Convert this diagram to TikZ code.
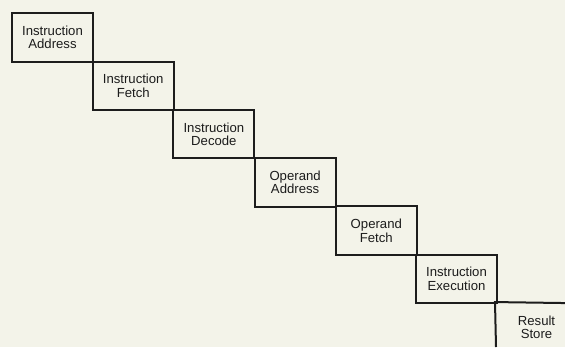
\documentclass[tikz,border=0pt]{standalone}
\usepackage{fontspec}
\setmainfont{Liberation Sans}
\definecolor{paper}{RGB}{243,243,233}
\definecolor{ink}{RGB}{28,28,28}
\begin{document}
\begin{tikzpicture}[x=1bp,y=1bp,
  stage/.style={draw=ink,line width=2bp,minimum width=81bp,minimum height=48.5bp,inner sep=0pt,
    align=center,text=ink,font=\fontsize{13.2}{13.5}\selectfont},
  openstage/.style={stage,draw=none}]
\fill[paper] (0,0) rectangle (565,-347);
\useasboundingbox (0,0) rectangle (565,-347);
\node[stage] (s1) at (52.5,-37.5) {Instruction\\Address};
\node[stage] (s2) at (133.2,-85.8) {Instruction\\Fetch};
\node[stage] (s3) at (213.9,-134.1) {Instruction\\Decode};
\node[stage] (s4) at (295.1,-182.4) {Operand\\Address};
\node[stage] (s5) at (376.3,-230.7) {Operand\\Fetch};
\node[stage] (s6) at (456.5,-279.0) {Instruction\\Execution};
\node[openstage] (s7) at (536.5,-327.3) {Result\\Store};
\coordinate (eR) at (565,-303.05);
\coordinate (eB) at (496,-347);
\draw[ink,line width=2bp] (eR) -- (s7.north west) -- (eB);
\end{tikzpicture}
\end{document}
